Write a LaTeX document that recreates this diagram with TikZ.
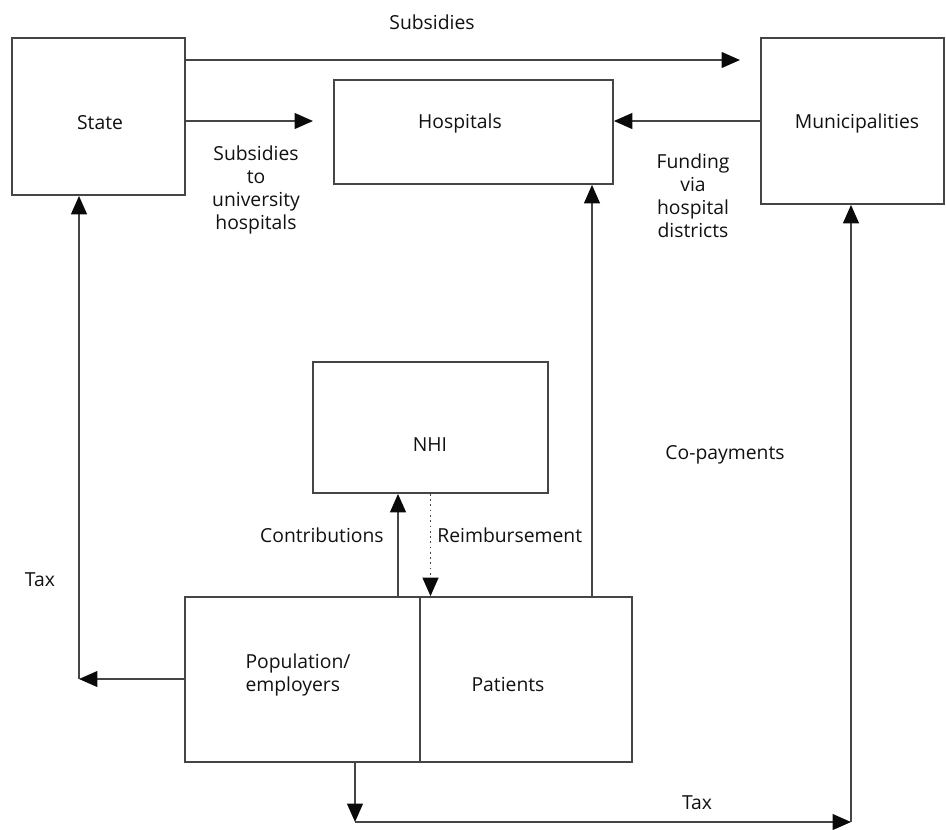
\documentclass[tikz,border=0pt]{standalone}
\usepackage{fontspec}
\setmainfont{Open Sans}
\usepackage{tikz}
\usetikzlibrary{arrows.meta}
\definecolor{linegray}{HTML}{454545}
\definecolor{textgray}{HTML}{111111}
\definecolor{tipblack}{HTML}{0a0a0a}

\tikzset{
    box/.style={draw=linegray, line width=1pt, inner sep=0pt, fill=white},
    lbl/.style={text=textgray, font=\fontsize{11}{13}\selectfont, align=center, inner sep=0pt},
    arr/.style={draw=linegray, line width=1pt,
        -{Triangle[length=10.5pt, width=9pt, color=tipblack]}}
}

\begin{document}
\begin{tikzpicture}[x=0.02cm, y=-0.02cm]
% picture frame
\useasboundingbox (0,0) rectangle (946,829);

% boxes
\node[box, minimum width=173*0.02cm, minimum height=157*0.02cm] (state) at (98.5,116.5) {};
\node[box, minimum width=279*0.02cm, minimum height=104*0.02cm] (hosp) at (473.5,132) {};
\node[box, minimum width=183*0.02cm, minimum height=166*0.02cm] (muni) at (852.5,121) {};
\node[box, minimum width=235*0.02cm, minimum height=131*0.02cm] (nhi) at (430.5,427.5) {};
\node[box, minimum width=235*0.02cm, minimum height=165*0.02cm] (pop) at (302.5,679.5) {};
\node[box, minimum width=212*0.02cm, minimum height=165*0.02cm] (patients) at (526,679.5) {};

% box texts
\node[lbl] (stateTxt) at (100,123) {State};
\node[lbl] (hospTxt) at (460,123) {Hospitals};
\node[lbl] (muniTxt) at (857,123) {Municipalities};
\node[lbl] (nhiTxt) at (430,445) {NHI};
\node[lbl, align=left] (popTxt) at (298,675) {Population/\\employers};
\node[lbl] (patTxt) at (508,684) {Patients};

% helper points
\coordinate (subEnd) at (740,60);
\coordinate (stHospEnd) at (313,121);
\coordinate (copay) at (592,597);
\coordinate (contr) at (398,597);
\coordinate (taxCorner) at (79,679);
\coordinate (taxDown) at (355,822);
\coordinate (taxRight) at (851,822);

% flows
\draw[arr] (state.east |- subEnd) -- (subEnd);
\draw[arr] (state.east |- stHospEnd) -- (stHospEnd);
\draw[arr] (muni.west) -- (hosp.east |- muni.west);
\draw[arr] (copay) -- (copay |- hosp.south);
\draw[arr] (contr) -- (contr |- nhi.south);
\draw[arr, dotted] (nhi.south) -- (nhi.south |- patients.north);
\draw[arr] (pop.west |- taxCorner) -- (taxCorner);
\draw[arr] (taxCorner) -- (taxCorner |- state.south);
\draw[arr] (taxDown |- pop.south) -- (taxDown);
\draw[arr] (taxDown) -- (taxRight);
\draw[arr] (taxRight) -- (taxRight |- muni.south);

% flow labels
\node[lbl] (subLbl) at (432,22) {Subsidies};
\node[lbl] (uniLbl) at (256,190) {Subsidies\\to\\university\\hospitals};
\node[lbl] (fundLbl) at (693,196) {Funding\\via\\hospital\\districts};
\node[lbl] (copayLbl) at (725,455) {Co-payments};
\node[lbl, anchor=east] (contrLbl) at (384,535) {Contributions};
\node[lbl, anchor=west] (reimbLbl) at (437,535) {Reimbursement};
\node[lbl] (taxLeftLbl) at (40,580) {Tax};
\node[lbl] (taxBotLbl) at (697,803) {Tax};
\end{tikzpicture}
\end{document}
